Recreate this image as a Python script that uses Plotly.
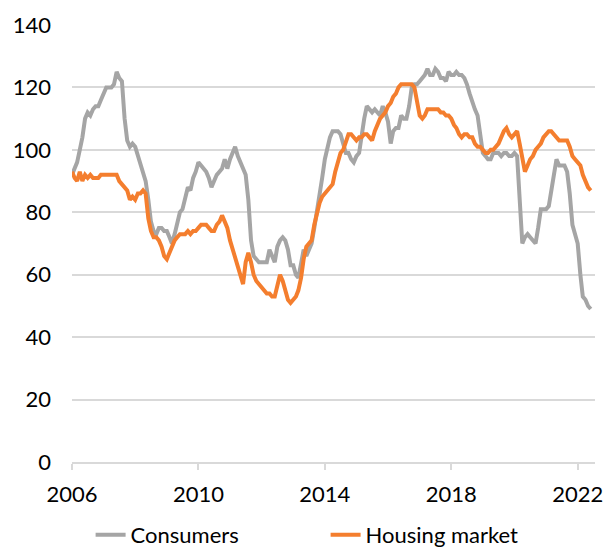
import pandas as pd
import plotly.graph_objects as go

# monthly index values, Jan 2006 - Jun 2022
months = pd.date_range("2006-01-01", periods=198, freq="MS")

consumers = [
    92, 94, 96, 100, 104, 110, 112, 111, 113, 114, 114, 116,    # 2006
    118, 120, 120, 120, 121, 125, 123, 122, 110, 103, 101, 102,  # 2007
    101, 98, 95, 93, 90, 84, 77, 74, 73, 75, 75, 74,            # 2008
    74, 72, 70, 73, 76, 80, 81, 84, 88, 87, 91, 93,             # 2009
    96, 95, 94, 93, 91, 88, 90, 92, 93, 94, 97, 94,             # 2010
    97, 99, 101, 98, 96, 94, 92, 84, 71, 66, 65, 64,            # 2011
    64, 64, 64, 68, 66, 64, 69, 71, 72, 71, 68, 63,             # 2012
    63, 60, 59, 64, 68, 66, 68, 70, 75, 81, 87, 91,             # 2013
    97, 101, 104, 106, 106, 106, 105, 102, 99, 99, 97, 96,      # 2014
    98, 99, 105, 110, 114, 113, 112, 113, 112, 111, 114, 112,   # 2015
    109, 102, 106, 107, 107, 111, 110, 110, 114, 120, 121, 121, # 2016
    122, 123, 124, 126, 124, 124, 126, 125, 123, 123, 122, 125, # 2017
    124, 124, 125, 124, 124, 123, 121, 118, 115, 113, 111, 105, # 2018
    99, 98, 97, 97, 99, 99, 99, 98, 99, 99, 98, 98,             # 2019
    99, 98, 84, 70, 72, 73, 72, 71, 70, 75, 81, 81,             # 2020
    81, 82, 86, 92, 97, 95, 95, 95, 93, 86, 76, 73,             # 2021
    70, 60, 53, 52, 50, 49,                                     # 2022
]

housing = [
    93, 91, 90, 93, 90, 92, 91, 92, 91, 91, 91, 92,             # 2006
    92, 92, 92, 92, 92, 92, 90, 89, 88, 87, 84, 85,             # 2007
    84, 86, 86, 87, 86, 78, 74, 72, 72, 71, 69, 66,             # 2008
    65, 67, 69, 71, 72, 73, 73, 73, 74, 73, 74, 74,             # 2009
    75, 76, 76, 76, 75, 74, 74, 76, 77, 79, 77, 75,             # 2010
    71, 68, 66, 63, 59, 57, 64, 67, 64, 60, 58, 57,             # 2011
    56, 55, 54, 54, 53, 53, 56, 60, 58, 55, 52, 51,             # 2012
    52, 53, 55, 59, 65, 69, 70, 71, 76, 80, 83, 85,             # 2013
    86, 87, 88, 89, 93, 96, 99, 100, 103, 105, 105, 104,        # 2014
    103, 104, 104, 105, 105, 104, 103, 106, 108, 110, 111, 112, # 2015
    114, 115, 117, 118, 120, 121, 121, 121, 121, 121, 120, 115, # 2016
    111, 110, 111, 113, 113, 113, 113, 113, 112, 112, 111, 111, # 2017
    110, 108, 107, 105, 104, 105, 105, 104, 104, 102, 101, 101, # 2018
    100, 99, 99, 100, 100, 101, 102, 104, 106, 107, 105, 104,   # 2019
    105, 106, 102, 97, 93, 95, 97, 98, 100, 101, 102, 104,      # 2020
    105, 106, 106, 105, 104, 103, 103, 103, 103, 101, 98, 97,   # 2021
    96, 95, 92, 90, 88, 87,                                     # 2022
]

year_ticks = ["2006-01-01", "2010-01-01", "2014-01-01", "2018-01-01", "2022-01-01"]
year_labels = ["2006", "2010", "2014", "2018", "2022"]

GREY = "#A5A5A5"
ORANGE = "#F47E2E"
GRID = "#D9D9D9"
FONT = "Lato, 'Open Sans', sans-serif"

fig = go.Figure()
fig.add_trace(go.Scatter(x=months, y=consumers, name="Consumers", mode="lines",
                         line=dict(color=GREY, width=4)))
fig.add_trace(go.Scatter(x=months, y=housing, name="Housing market", mode="lines",
                         line=dict(color=ORANGE, width=4)))

fig.update_layout(
    width=604, height=548,
    margin=dict(l=72, r=9, t=25, b=86),
    paper_bgcolor="white", plot_bgcolor="white",
    font=dict(family=FONT, size=22, color="#000000"),
    showlegend=True,
    legend=dict(orientation="h", x=0.15, xanchor="left", xref="container",
                y=0.024, yanchor="middle", yref="container",
                font=dict(size=22), tracegroupgap=0,
                entrywidth=190, entrywidthmode="pixels"),
)
fig.update_xaxes(
    type="date", range=["2006-01-01", "2022-07-20"], automargin=False,
    tickvals=year_ticks, ticktext=year_labels,
    showgrid=False, showline=True, linecolor=GRID, linewidth=1.5,
    ticks="outside", ticklen=6, tickcolor=GRID, tickwidth=1.5,
    ticklabelstandoff=6, zeroline=False,
)
fig.update_yaxes(
    range=[0, 140], dtick=20, showgrid=True, gridcolor=GRID, gridwidth=1.5,
    zeroline=False, showline=False, ticks="", ticklabelstandoff=20,
    automargin=False,
)

# drop the default page margin so the figure sits at the window's corner
fig.write_html("out.html", config={"displayModeBar": False},
               post_script="document.body.style.margin='0px';")
